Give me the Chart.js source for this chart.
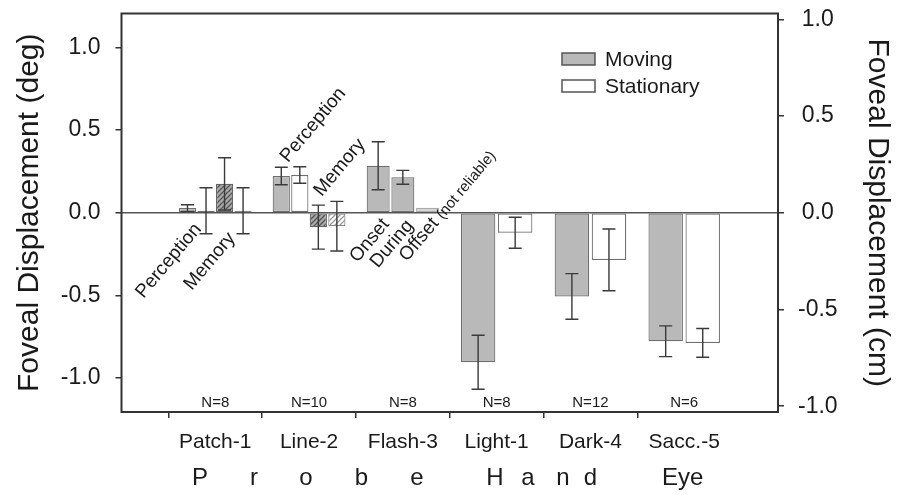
<!DOCTYPE html>
<html>
<head>
<meta charset="utf-8">
<script src="https://cdn.jsdelivr.net/npm/chart.js@4.4.1/dist/chart.umd.min.js"></script>
<style>
  html, body { margin: 0; padding: 0; background: #fff; }
  #wrap { width: 906px; height: 495px; }
</style>
</head>
<body>
<div id="wrap"><canvas id="chart" width="906" height="495"></canvas></div>
<script>
// categories; empty ends keep the outer half-slots like the original plot
const categories = ['', 'Patch-1', 'Line-2', 'Flash-3', 'Light-1', 'Dark-4', 'Sacc.-5', ''];
const nLabels = ['', 'N=8', 'N=10', 'N=8', 'N=8', 'N=12', 'N=6', ''];

// bar slots inside each group (deg) and their error half-widths
const slot1 = [null, 0.028, 0.222, 0.284, -0.904, -0.506, -0.777, null];
const slot1Err = [null, 0.02, 0.053, 0.145, 0.163, 0.138, 0.093, null];
const slot2 = [null, 0.012, 0.228, 0.214, -0.121, -0.285, -0.787, null];
const slot2Err = [null, 0.139, 0.05, 0.042, 0.094, 0.187, 0.087, null];
const slot3 = [null, 0.175, -0.087, 0.03, null, null, null, null];
const slot3Err = [null, 0.158, 0.133, null, null, null, null, null];
const slot4 = [null, 0.012, -0.081, null, null, null, null, null];
const slot4Err = [null, 0.139, 0.15, null, null, null, null, null];

const degTicks = [-1, -0.5, 0, 0.5, 1];
const cmTicks = [-1, -0.5, 0, 0.5, 1];

// group letters under the axis, positioned in category units
const groupLetters = ['P', 'r', 'o', 'b', 'e', 'H', 'a', 'n', 'd', 'Eye'];
const groupLetterX = [0.837, 1.413, 1.967, 2.559, 3.15, 3.982, 4.334, 4.707, 5.0, 5.983];

// rotated notes: text, x (category units), y (deg), alignment
const noteText = ['Perception', 'Memory', 'Perception', 'Memory', 'Onset', 'During', 'Offset'];
const noteX = [0.858, 1.22, 1.775, 2.134, 2.863, 3.118, 3.044];
const noteY = [-0.101, -0.155, 0.30, 0.094, -0.071, -0.08, -0.30];
const noteAlign = ['right', 'right', 'left', 'left', 'right', 'right', 'left'];

const FONT = "'Liberation Sans', Arial, Helvetica, sans-serif";
const GRAY = '#b9b9b9';
const EDGE = '#6f6f6f';

function hatch(bg, line) {
  const c = document.createElement('canvas');
  c.width = 5; c.height = 5;
  const g = c.getContext('2d');
  g.fillStyle = bg;
  g.fillRect(0, 0, 5, 5);
  g.strokeStyle = line;
  g.lineWidth = 1.3;
  g.beginPath();
  g.moveTo(-1, 6); g.lineTo(6, -1);
  g.moveTo(-1, 1); g.lineTo(1, -1);
  g.moveTo(4, 6); g.lineTo(6, 4);
  g.stroke();
  return g.createPattern(c, 'repeat');
}
const hatchGray = hatch('#a9a9a9', '#555');
const hatchWhite = hatch('#ffffff', '#9a9a9a');

const errs = [slot1Err, slot2Err, slot3Err, slot4Err];

const overlay = {
  id: 'overlay',
  afterDatasetsDraw(chart) {
    const { ctx, scales: { y } } = chart;
    ctx.save();
    ctx.strokeStyle = '#3a3a3a';
    ctx.lineWidth = 1.4;
    errs.forEach((errArr, di) => {
      const meta = chart.getDatasetMeta(di);
      const vals = chart.data.datasets[di].data;
      meta.data.forEach((bar, i) => {
        const v = vals[i], e = errArr[i];
        if (v == null || e == null) return;
        const top = y.getPixelForValue(v + e);
        const bot = y.getPixelForValue(v - e);
        ctx.beginPath();
        ctx.moveTo(bar.x, top); ctx.lineTo(bar.x, bot);
        ctx.moveTo(bar.x - 6.5, top); ctx.lineTo(bar.x + 6.5, top);
        ctx.moveTo(bar.x - 6.5, bot); ctx.lineTo(bar.x + 6.5, bot);
        ctx.stroke();
      });
    });
    ctx.restore();
  },
  afterDraw(chart) {
    const { ctx, chartArea: a, scales: { x, y } } = chart;
    ctx.save();
    // frame
    ctx.strokeStyle = '#333';
    ctx.lineWidth = 2;
    ctx.strokeRect(a.left, a.top, a.right - a.left, a.bottom - a.top);

    // legend
    ctx.lineWidth = 1.5;
    ctx.strokeStyle = '#555';
    ctx.fillStyle = GRAY;
    ctx.fillRect(562, 53, 33, 12); ctx.strokeRect(562, 53, 33, 12);
    ctx.fillStyle = '#fff';
    ctx.fillRect(562, 80, 33, 12); ctx.strokeRect(562, 80, 33, 12);
    ctx.fillStyle = '#1a1a1a';
    ctx.font = '21px ' + FONT;
    ctx.textBaseline = 'middle';
    ctx.textAlign = 'left';
    ctx.fillText('Moving', 605, 60);
    ctx.fillText('Stationary', 605, 87);

    // N labels
    ctx.font = '15px ' + FONT;
    ctx.textAlign = 'center';
    nLabels.forEach((t, i) => {
      if (t) ctx.fillText(t, x.getPixelForValue(i), y.getPixelForValue(-1.152));
    });

    // group letters
    ctx.font = '24px ' + FONT;
    groupLetters.forEach((t, i) => {
      ctx.fillText(t, x.getPixelForValue(groupLetterX[i]), a.bottom + 66);
    });

    // rotated notes
    ctx.textBaseline = 'alphabetic';
    noteText.forEach((t, i) => {
      ctx.save();
      ctx.translate(x.getPixelForValue(noteX[i]), y.getPixelForValue(noteY[i]));
      ctx.rotate(-50 * Math.PI / 180);
      ctx.textAlign = noteAlign[i];
      ctx.font = '19px ' + FONT;
      ctx.fillText(t, 0, 0);
      if (t === 'Offset') {
        const w = ctx.measureText(t + ' ').width;
        ctx.font = '15px ' + FONT;
        ctx.fillText('(not reliable)', w, 0);
      }
      ctx.restore();
    });
    ctx.restore();
  }
};

const barStyle = { borderWidth: 1.2, borderSkipped: false };

function noPad(s) {
  s.paddingTop = 0; s.paddingBottom = 0; s.paddingLeft = 0; s.paddingRight = 0;
}

new Chart(document.getElementById('chart'), {
  type: 'bar',
  data: {
    labels: categories,
    datasets: [
      { label: 'Moving', data: slot1, backgroundColor: GRAY, borderColor: EDGE, ...barStyle },
      { label: 'Stationary', data: slot2,
        backgroundColor: ['#fff', '#fff', '#fff', GRAY, '#fff', '#fff', '#fff', '#fff'],
        borderColor: EDGE, ...barStyle },
      { label: 'Moving memory', data: slot3,
        backgroundColor: ['#fff', hatchGray, hatchGray, '#d3d3d3'],
        borderColor: ['#666', '#666', '#666', '#aaa'], ...barStyle },
      { label: 'Stationary memory', data: slot4, backgroundColor: hatchWhite, borderColor: '#888', ...barStyle }
    ]
  },
  options: {
    responsive: false,
    animation: false,
    devicePixelRatio: 1,
    skipNull: true,
    categoryPercentage: 0.79,
    barPercentage: 0.93,
    layout: { padding: { top: 13.5, left: 0, right: 0, bottom: 0 } },
    plugins: { legend: { display: false }, tooltip: { enabled: false } },
    scales: {
      x: {
        offset: false,
        afterFit(s) { s.height = 83; noPad(s); },
        border: { display: false },
        grid: {
          drawOnChartArea: false,
          tickLength: 6,
          lineWidth: 1.5,
          tickColor: c => (c.index === 0 || c.index === categories.length - 1) ? 'rgba(0,0,0,0)' : '#333'
        },
        ticks: { color: '#1a1a1a', font: { family: FONT, size: 21 }, padding: 12, maxRotation: 0, autoSkip: false }
      },
      y: {
        position: 'left',
        min: -1.205, max: 1.205,
        afterFit(s) { s.width = 121.5; noPad(s); },
        afterBuildTicks(s) { s.ticks = degTicks.map(v => ({ value: v })); },
        border: { display: false },
        grid: {
          color: c => (c.tick && c.tick.value === 0) ? '#555' : 'rgba(0,0,0,0)',
          tickColor: '#333',
          lineWidth: 1.5,
          tickLength: 6
        },
        ticks: { color: '#1a1a1a', font: { family: FONT, size: 23 }, padding: 15, callback: v => v.toFixed(1) },
        title: { display: true, text: 'Foveal Displacement (deg)', color: '#1a1a1a', font: { family: FONT, size: 30 }, padding: { top: 12, bottom: 0 } }
      },
      y2: {
        position: 'right',
        min: -1.03, max: 1.03,
        afterFit(s) { s.width = 128; noPad(s); },
        afterBuildTicks(s) { s.ticks = cmTicks.map(v => ({ value: v })); },
        border: { display: false },
        grid: { drawOnChartArea: false, tickColor: '#333', lineWidth: 1.5, tickLength: 6 },
        ticks: { color: '#1a1a1a', font: { family: FONT, size: 23 }, padding: 14, crossAlign: 'center', callback: v => v.toFixed(1) },
        title: { display: true, text: 'Foveal Displacement (cm)', color: '#1a1a1a', font: { family: FONT, size: 30 }, padding: { top: 11, bottom: 0 } }
      }
    }
  },
  plugins: [overlay]
});
</script>
</body>
</html>
